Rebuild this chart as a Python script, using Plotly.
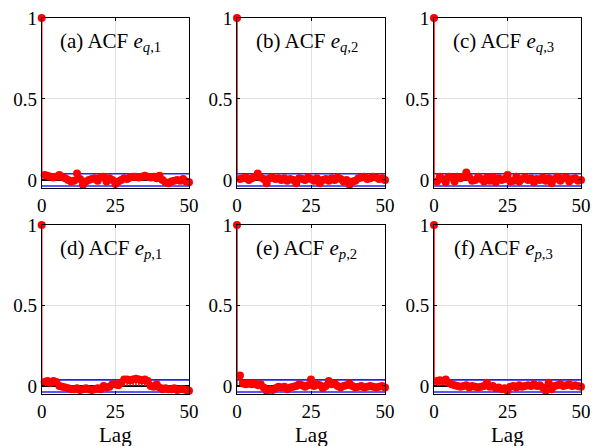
import plotly.graph_objects as go

lags = list(range(0, 51))
bound = 0.038

acf_eq1 = [1.0, 0.03, 0.025, 0.02, 0.015, 0.02, 0.03, 0.02, 0.01, 0.0, -0.01, -0.005, 0.04, 0.005, -0.03, -0.01,
           0.0, 0.005, 0.01, -0.005, 0.015, 0.02, -0.01, 0.01, 0.0, -0.025, -0.01, 0.0, 0.01, 0.005, 0.015,
           0.02, 0.02, 0.015, 0.02, 0.025, 0.02, 0.015, 0.02, 0.01, 0.025, 0.0, -0.015, -0.02, -0.01, -0.005,
           0.0, -0.005, 0.005, -0.01, -0.015]
acf_eq2 = [1.0, 0.005, 0.01, 0.015, 0.0, 0.01, 0.02, 0.04, 0.015, 0.005, -0.02, 0.01, 0.015, 0.005, 0.01, 0.0,
           0.01, -0.005, 0.005, 0.0, -0.02, 0.01, 0.005, 0.0, 0.015, 0.005, -0.005, 0.01, -0.02, 0.0, 0.005,
           -0.005, 0.01, 0.0, 0.015, 0.005, -0.01, 0.0, -0.03, -0.01, -0.005, 0.01, 0.015, 0.02, 0.005, 0.01,
           0.02, 0.015, 0.005, 0.01, 0.0]
acf_eq3 = [1.0, -0.01, 0.02, 0.005, -0.015, 0.02, 0.015, -0.01, 0.02, 0.01, 0.02, 0.045, 0.015, -0.005, 0.0,
           0.02, 0.005, -0.01, 0.015, -0.005, 0.02, -0.015, 0.01, 0.0, 0.005, 0.03, -0.01, -0.005, 0.02, -0.01,
           0.005, 0.015, 0.0, 0.01, -0.015, 0.005, 0.0, 0.015, -0.005, 0.01, -0.02, 0.005, 0.02, -0.005, 0.01,
           0.015, -0.01, 0.005, 0.01, -0.005, 0.0]
acf_ep1 = [1.0, 0.025, 0.03, 0.02, 0.03, 0.025, 0.0, -0.005, -0.01, -0.015, -0.02, -0.02, -0.015, -0.025, -0.02,
           -0.015, -0.02, -0.025, -0.02, -0.015, -0.02, 0.0, -0.01, -0.005, 0.01, 0.01, 0.005, 0.02, 0.04, 0.04,
           0.035, 0.04, 0.045, 0.04, 0.035, 0.04, 0.03, 0.0, -0.005, 0.01, -0.01, -0.02, -0.015, -0.02, -0.02,
           -0.015, -0.025, -0.02, -0.02, -0.025, -0.03]
acf_ep2 = [1.0, 0.065, 0.015, 0.01, 0.015, 0.01, 0.015, 0.005, 0.01, -0.01, -0.03, -0.02, -0.025, -0.015, -0.005,
           -0.01, -0.005, -0.02, -0.01, -0.005, 0.0, 0.01, 0.005, -0.005, 0.005, 0.04, 0.0, 0.01, 0.005, -0.015,
           0.0, 0.03, 0.01, 0.015, 0.0, -0.01, 0.0, 0.005, 0.015, 0.0, -0.01, -0.005, 0.0, -0.01, -0.005, 0.0,
           -0.005, -0.01, -0.005, 0.0, -0.01]
acf_ep3 = [1.0, 0.03, 0.035, 0.03, 0.04, 0.02, 0.01, 0.005, 0.0, -0.005, 0.0, 0.005, -0.01, 0.0, -0.005, -0.01,
           -0.005, 0.0, 0.02, -0.005, 0.0, -0.015, -0.01, -0.02, -0.015, -0.03, -0.005, 0.0, -0.01, 0.005, -0.005,
           0.0, 0.005, 0.0, 0.01, 0.0, 0.005, -0.01, -0.03, 0.02, -0.02, 0.0, 0.005, 0.01, 0.0, 0.005, 0.01,
           0.0, 0.005, 0.0, -0.005]

series = [acf_eq1, acf_eq2, acf_eq3, acf_ep1, acf_ep2, acf_ep3]
titles = ["(a) ACF <i>e</i><sub><i>q</i>,1</sub>", "(b) ACF <i>e</i><sub><i>q</i>,2</sub>",
          "(c) ACF <i>e</i><sub><i>q</i>,3</sub>", "(d) ACF <i>e</i><sub><i>p</i>,1</sub>",
          "(e) ACF <i>e</i><sub><i>p</i>,2</sub>", "(f) ACF <i>e</i><sub><i>p</i>,3</sub>"]
xlabel = "Lag"

W, H = 592, 446
xdom_px = [(41.7, 189.0), (237.0, 385.0), (434.0, 581.0)]
ydom_px = [(18.0, 188.0), (225.0, 394.0)]

FONT = "Liberation Serif"
fig = go.Figure()
layout = dict(width=W, height=H, margin=dict(l=0, r=0, t=0, b=0, autoexpand=False),
              paper_bgcolor="white", plot_bgcolor="white", showlegend=False,
              font=dict(family=FONT, size=18, color="black"))
annotations = []
for i, vals in enumerate(series):
    r, c = divmod(i, 3)
    k = i + 1
    xa = "x" if k == 1 else f"x{k}"
    ya = "y" if k == 1 else f"y{k}"
    fig.add_trace(go.Scatter(x=[0, 50], y=[bound, bound], mode="lines",
                             line=dict(color="#2222ff", width=1.6), xaxis=xa, yaxis=ya))
    fig.add_trace(go.Scatter(x=[0, 50], y=[-bound, -bound], mode="lines",
                             line=dict(color="#2222ff", width=1.6), xaxis=xa, yaxis=ya))
    fig.add_trace(go.Scatter(x=[0, 50], y=[0, 0], mode="lines",
                             line=dict(color="black", width=2), xaxis=xa, yaxis=ya))
    sx, sy = [], []
    for L, v in zip(lags, vals):
        sx += [L, L, None]
        sy += [0, v, None]
    fig.add_trace(go.Scatter(x=sx, y=sy, mode="lines", line=dict(color="red", width=1.5),
                             xaxis=xa, yaxis=ya, cliponaxis=False))
    fig.add_trace(go.Scatter(x=lags, y=vals, mode="markers",
                             marker=dict(color="red", size=8, line=dict(width=0)),
                             xaxis=xa, yaxis=ya, cliponaxis=False))
    x0, x1 = xdom_px[c]
    y0, y1 = ydom_px[r]
    axcommon = dict(showline=True, linecolor="black", linewidth=1, mirror="ticks",
                    ticks="inside", ticklen=3, tickcolor="black", automargin=False,
                    ticklabeloverflow="allow",
                    showgrid=True, gridcolor="#e0e0e0", gridwidth=1, zeroline=False,
                    tickfont=dict(family=FONT, size=19))
    layout["xaxis" if k == 1 else f"xaxis{k}"] = dict(
        domain=[x0 / W, x1 / W], range=[0, 50], tickvals=[0, 25, 50],
        anchor=ya, **axcommon)
    layout["yaxis" if k == 1 else f"yaxis{k}"] = dict(
        domain=[1 - y1 / H, 1 - y0 / H], range=[-0.05, 1], tickvals=[0, 0.5, 1],
        ticktext=["0", "0.5", "1"], anchor=xa, **axcommon)
    annotations.append(dict(text=titles[i], x=23.5, y=0.85, xref=xa, yref=ya,
                            showarrow=False, font=dict(family=FONT, size=21)))
    if r == 1:
        annotations.append(dict(text=xlabel, x=25, xref=xa, y=1 - 435 / H, yref="paper",
                                showarrow=False, yanchor="middle",
                                font=dict(family=FONT, size=21)))
layout["annotations"] = annotations
fig.update_layout(**layout)
fig.write_html("out.html", config={"displayModeBar": False},
               post_script="document.documentElement.style.margin='0';"
                           "document.body.style.margin='0';"
                           "document.body.style.overflow='hidden';")
